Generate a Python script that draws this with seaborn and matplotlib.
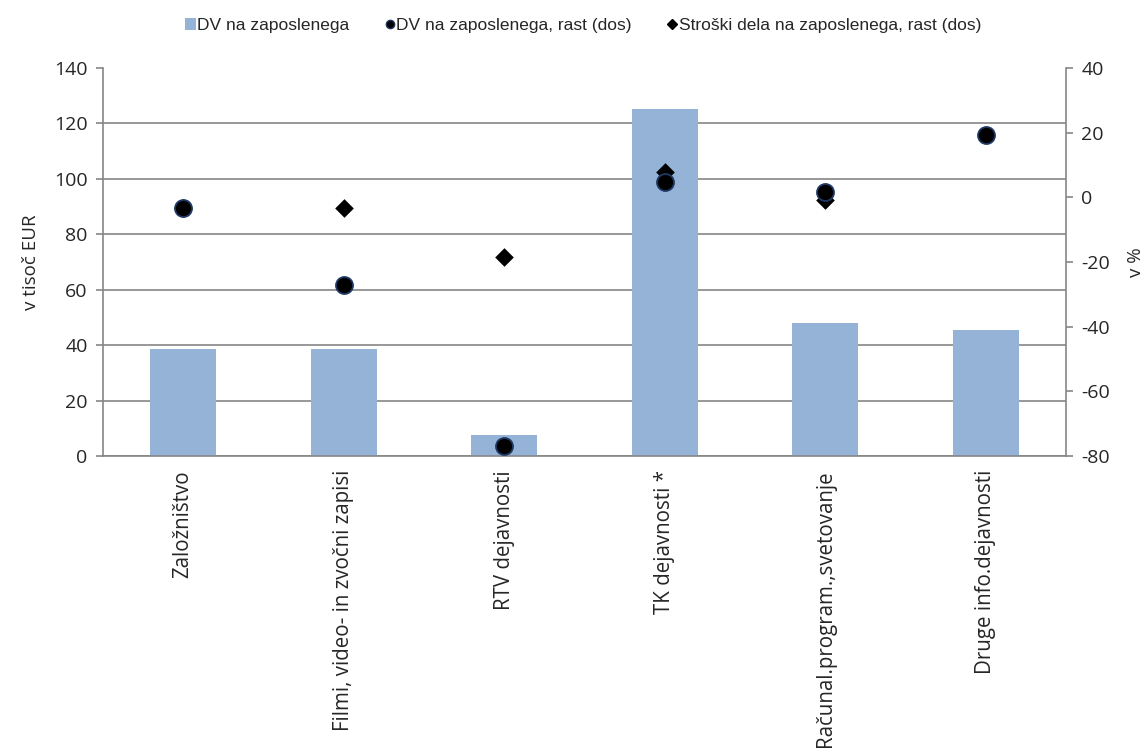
import numpy as np
import pandas as pd
import seaborn as sns
import matplotlib.pyplot as plt
from matplotlib.lines import Line2D
from matplotlib.patches import Patch

categories = ["Založništvo", "Filmi, video- in zvočni zapisi", "RTV dejavnosti",
              "TK dejavnosti *", "Računal.program.,svetovanje", "Druge info.dejavnosti"]
dv_zap = [38.5, 38.5, 7.5, 125.2, 48.0, 45.3]          # v tisoč EUR
dv_rast = [-3.4, -27.2, -76.9, 4.8, 1.7, 19.2]          # v %
stroski_rast = [-3.3, -3.4, -18.5, 7.9, -0.7, np.nan]   # v %

df = pd.DataFrame({"kat": categories, "dv": dv_zap,
                   "dv_rast": dv_rast, "str_rast": stroski_rast})

sns.set_style("white")
plt.rcParams["font.family"] = ["Open Sans", "DejaVu Sans"]
plt.rcParams["axes.unicode_minus"] = False

fig = plt.figure(figsize=(11.48, 7.53), dpi=100)
ax = fig.add_axes([0.0897, 0.3944, 0.8389, 0.5153])

sns.barplot(data=df, x="kat", y="dv", color="#95B3D7", saturation=1,
            width=0.41, ax=ax, zorder=2, edgecolor="none")
ax.set_ylim(0, 140)
ax.set_yticks(np.arange(0, 141, 20))
ax.set_xlim(-0.5, 5.5)
ax.yaxis.grid(True, color="#868686", lw=1.2, zorder=0)
ax.get_ygridlines()[-1].set_visible(False)
ax.set_axisbelow(True)
ax.set_xlabel("")
ax.set_ylabel("v tisoč EUR", fontsize=13.5, labelpad=10)
ax.tick_params(axis="y", labelsize=14, length=5, color="#868686", width=1.2, pad=6)
ax.tick_params(axis="x", which="major", length=0, pad=10)
ax.set_xticks(np.arange(6))
ax.set_xticklabels(categories, rotation=90, fontsize=14.8)
ax.set_xticks(np.arange(-0.5, 6, 1), minor=True)
ax.tick_params(axis="x", which="minor", direction="inout", length=14,
               color="#868686", width=1.2)
for s in ["left", "bottom"]:
    ax.spines[s].set_color("#868686")
    ax.spines[s].set_linewidth(1.2)
for s in ["top", "right"]:
    ax.spines[s].set_visible(False)

ax2 = ax.twinx()
sns.scatterplot(x=np.arange(6), y=df["str_rast"], marker="D", s=90, color="black",
                edgecolor="black", linewidth=0, ax=ax2, zorder=3)
sns.scatterplot(x=np.arange(6), y=df["dv_rast"], marker="o", s=150, color="black",
                edgecolor="#1F3864", linewidth=1.3, ax=ax2, zorder=4)
ax2.set_ylim(-80, 40)
ax2.set_yticks(np.arange(-80, 41, 20))
ax2.set_xlim(-0.5, 5.5)
ax2.set_ylabel("v %", fontsize=13.5, labelpad=12)
ax2.tick_params(axis="y", labelsize=14, length=5, color="#868686", width=1.2, pad=6)
for s in ["top", "left", "bottom"]:
    ax2.spines[s].set_visible(False)
ax2.spines["right"].set_color("#868686")
ax2.spines["right"].set_linewidth(1.2)

handles = [
    Patch(facecolor="#95B3D7", edgecolor="none", label="DV na zaposlenega"),
    Line2D([], [], marker="o", ls="none", color="black", markeredgecolor="#1F3864",
           markersize=6, label="DV na zaposlenega, rast (dos)"),
    Line2D([], [], marker="D", ls="none", color="black", markersize=5,
           label="Stroški dela na zaposlenega, rast (dos)"),
]
fig.legend(handles=handles, loc="center", bbox_to_anchor=(0.508, 0.966), ncol=3,
           frameon=False, prop={"family": "Liberation Sans", "size": 12.5},
           handlelength=0.6, handletextpad=0.1, columnspacing=2.0, handleheight=0.7)

fig.savefig("out.png", dpi=100)
